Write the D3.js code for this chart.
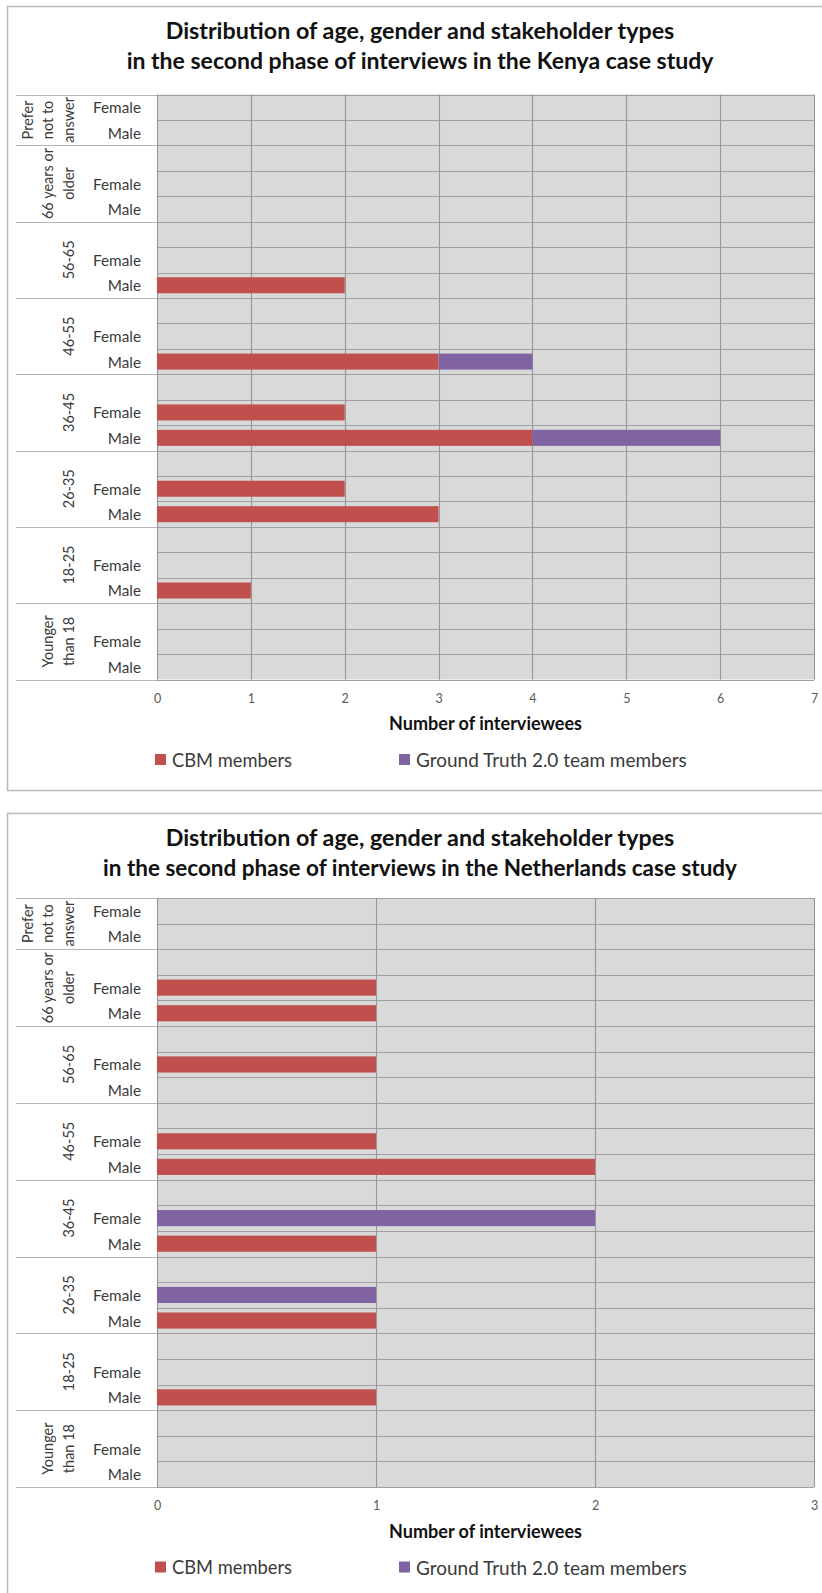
<!DOCTYPE html>
<html>
<head>
<meta charset="utf-8">
<script src="https://cdn.jsdelivr.net/npm/d3@7"></script>
<style>
  html, body { margin: 0; padding: 0; background: #ffffff; }
  svg { display: block; }
  text { font-family: Lato, "Open Sans", "DejaVu Sans", sans-serif; }
</style>
</head>
<body>
<svg id="chart" width="822" height="1593"></svg>
<script>
// Age groups, top to bottom, and how each label is broken into lines
const ageGroups = ["Prefer not to answer", "66 years or older", "56-65", "46-55", "36-45", "26-35", "18-25", "Younger than 18"];
const ageGroupLines = [["Prefer", "not to", "answer"], ["66 years or", "older"], ["56-65"], ["46-55"], ["36-45"], ["26-35"], ["18-25"], ["Younger", "than 18"]];
const genders = ["Female", "Male"];
const seriesNames = ["CBM members", "Ground Truth 2.0 team members"];
const seriesColors = ["#c0504d", "#8064a2"];

// Kenya: interviewees per age group (same order as ageGroups)
const kenyaCbmFemale = [0, 0, 0, 0, 2, 2, 0, 0];
const kenyaCbmMale   = [0, 0, 2, 3, 4, 3, 1, 0];
const kenyaGtFemale  = [0, 0, 0, 0, 0, 0, 0, 0];
const kenyaGtMale    = [0, 0, 0, 1, 2, 0, 0, 0];
const kenyaTicks = [0, 1, 2, 3, 4, 5, 6, 7];

// Netherlands: interviewees per age group
const nlCbmFemale = [0, 1, 1, 1, 0, 0, 0, 0];
const nlCbmMale   = [0, 1, 0, 2, 1, 1, 1, 0];
const nlGtFemale  = [0, 0, 0, 0, 2, 1, 0, 0];
const nlGtMale    = [0, 0, 0, 0, 0, 0, 0, 0];
const nlTicks = [0, 1, 2, 3];

const kenyaTitle = ["Distribution of age, gender and stakeholder types",
                    "in the second phase of interviews in the Kenya case study"];
const nlTitle = ["Distribution of age, gender and stakeholder types",
                 "in the second phase of interviews in the Netherlands case study"];
const axisTitle = "Number of interviewees";

const svg = d3.select("#chart");

// Shrink or grow a text element's font so its rendered width equals w
function fitWidth(sel, w) {
  const node = sel.node();
  const fs = parseFloat(sel.attr("font-size"));
  const len = node.getComputedTextLength();
  if (len > 0) sel.attr("font-size", (fs * w / len).toFixed(2));
}

function drawPanel(opt) {
  const g = svg.append("g");
  const top = opt.frameTop;

  // Outer frame
  g.append("rect")
    .attr("x", 7.5).attr("y", top + 0.5)
    .attr("width", 830).attr("height", opt.frameHeight)
    .attr("fill", "#ffffff")
    .attr("stroke", "#bdbdbd").attr("stroke-width", 1.6);

  // Title
  opt.title.forEach((line, i) => {
    const t = g.append("text")
      .attr("x", 420).attr("y", top + 33 + i * 30)
      .attr("text-anchor", "middle")
      .attr("font-size", 19).attr("font-weight", "bold")
      .attr("fill", "#111")
      .text(line);
    fitWidth(t, opt.titleWidths[i]);
  });

  // Rows: each group has an empty spacer row, then Female and Male
  const rows = [];
  ageGroups.forEach((grp, gi) => {
    if (gi > 0) rows.push({ key: grp + "|spacer", group: gi, gender: null });
    genders.forEach(gd => rows.push({ key: grp + "|" + gd, group: gi, gender: gd }));
  });

  const x = d3.scaleLinear().domain([0, d3.max(opt.ticks)]).range([157, 814]);
  const y = d3.scaleBand().domain(rows.map(r => r.key))
    .range([opt.plotTop, opt.plotBottom]).padding(0);
  const bh = y.bandwidth();

  // Plot background
  g.append("rect")
    .attr("x", x.range()[0]).attr("y", opt.plotTop)
    .attr("width", x.range()[1] - x.range()[0])
    .attr("height", opt.plotBottom - opt.plotTop)
    .attr("fill", "#d9d9d9");

  // Horizontal gridlines between all rows
  const bounds = rows.map(r => y(r.key)).concat([opt.plotBottom]);
  g.append("g").selectAll("line").data(bounds).join("line")
    .attr("x1", x.range()[0]).attr("x2", x.range()[1])
    .attr("y1", d => Math.round(d) + 0.5).attr("y2", d => Math.round(d) + 0.5)
    .attr("stroke", "#a0a0a0").attr("stroke-width", 1.2);

  // Vertical gridlines
  g.append("g").selectAll("line").data(opt.ticks).join("line")
    .attr("x1", d => Math.round(x(d)) + 0.5).attr("x2", d => Math.round(x(d)) + 0.5)
    .attr("y1", opt.plotTop).attr("y2", opt.plotBottom)
    .attr("stroke", "#969696").attr("stroke-width", 1.1);

  // Group separators across the label column
  const groupEdges = ageGroups.map((grp, gi) => y(gi === 0 ? grp + "|Female" : grp + "|spacer"))
    .concat([opt.plotBottom]);
  g.append("g").selectAll("line").data(groupEdges).join("line")
    .attr("x1", 16).attr("x2", x.range()[0])
    .attr("y1", d => Math.round(d) + 0.5).attr("y2", d => Math.round(d) + 0.5)
    .attr("stroke", "#b5b5b5").attr("stroke-width", 1.2);

  // Stacked bars
  const stacks = [];
  rows.filter(r => r.gender).forEach(r => {
    const isF = r.gender === "Female";
    const vals = [isF ? opt.cbmF[r.group] : opt.cbmM[r.group],
                  isF ? opt.gtF[r.group] : opt.gtM[r.group]];
    let acc = 0;
    vals.forEach((v, si) => {
      if (v > 0) stacks.push({ key: r.key, x0: acc, x1: acc + v, s: si });
      acc += v;
    });
  });
  g.append("g").selectAll("rect").data(stacks).join("rect")
    .attr("x", d => x(d.x0))
    .attr("width", d => x(d.x1) - x(d.x0))
    .attr("y", d => y(d.key) + bh * 0.185)
    .attr("height", bh * 0.63)
    .attr("fill", d => seriesColors[d.s]);

  // Gender labels
  g.append("g").selectAll("text").data(rows.filter(r => r.gender)).join("text")
    .attr("x", 141).attr("y", d => y(d.key) + bh / 2)
    .attr("text-anchor", "end").attr("dominant-baseline", "central")
    .attr("font-size", 15.3).attr("fill", "#3a3a3a")
    .text(d => d.gender);

  // Rotated age group labels
  ageGroups.forEach((grp, gi) => {
    const y0 = groupEdges[gi], y1 = groupEdges[gi + 1];
    const cy = (y0 + y1) / 2;
    const lines = ageGroupLines[gi];
    lines.forEach((ln, li) => {
      const cx = 68 - (lines.length - 1 - li) * 20.5;
      g.append("text")
        .attr("transform", `translate(${cx},${cy}) rotate(-90)`)
        .attr("text-anchor", "middle").attr("dominant-baseline", "central")
        .attr("font-size", 14.5).attr("fill", "#3a3a3a")
        .text(ln);
    });
  });

  // X axis tick labels
  const axis = d3.axisBottom(x).tickValues(opt.ticks).tickSize(0).tickPadding(0)
    .tickFormat(d3.format("d"));
  const ax = g.append("g").attr("transform", `translate(0,${opt.plotBottom + 18.5})`).call(axis);
  ax.select(".domain").remove();
  ax.selectAll("text")
    .attr("y", 0).attr("dy", null)
    .attr("dominant-baseline", "central")
    .attr("font-size", 12.5).attr("fill", "#595959")
    .attr("font-family", "Lato, sans-serif");

  // Axis title
  const at = g.append("text")
    .attr("x", (x.range()[0] + x.range()[1]) / 2).attr("y", opt.plotBottom + 43.5)
    .attr("text-anchor", "middle").attr("dominant-baseline", "central")
    .attr("font-size", 15).attr("font-weight", "bold").attr("fill", "#111")
    .text(axisTitle);
  fitWidth(at, 193);

  // Legend
  const legX = [155, 399];
  const legW = [120, 271];
  const ly = opt.plotBottom + 80;
  seriesNames.forEach((name, i) => {
    g.append("rect")
      .attr("x", legX[i]).attr("y", ly - 5.5)
      .attr("width", 11).attr("height", 11)
      .attr("fill", seriesColors[i]);
    const t = g.append("text")
      .attr("x", legX[i] + 17).attr("y", ly)
      .attr("dominant-baseline", "central")
      .attr("font-size", 16).attr("fill", "#3a3a3a")
      .text(name);
    fitWidth(t, legW[i]);
  });
}

drawPanel({
  frameTop: 6, frameHeight: 784,
  title: kenyaTitle, titleWidths: [509, 587],
  plotTop: 94.5, plotBottom: 679.5,
  ticks: kenyaTicks,
  cbmF: kenyaCbmFemale, cbmM: kenyaCbmMale, gtF: kenyaGtFemale, gtM: kenyaGtMale
});

drawPanel({
  frameTop: 813, frameHeight: 820,
  title: nlTitle, titleWidths: [509, 634],
  plotTop: 898, plotBottom: 1487,
  ticks: nlTicks,
  cbmF: nlCbmFemale, cbmM: nlCbmMale, gtF: nlGtFemale, gtM: nlGtMale
});
</script>
</body>
</html>
